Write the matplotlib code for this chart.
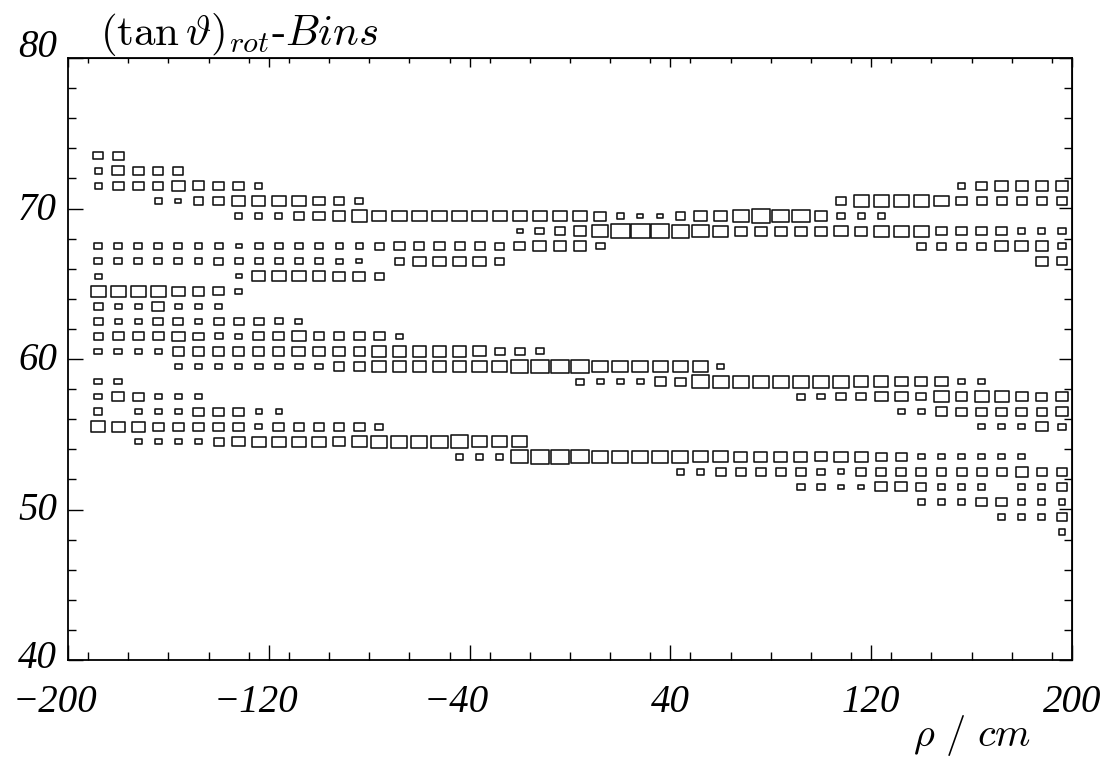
import numpy as np
import matplotlib
matplotlib.use("Agg")
import matplotlib.pyplot as plt
from matplotlib.patches import Rectangle
from matplotlib.collections import PatchCollection
from matplotlib.ticker import MultipleLocator, FixedLocator
from matplotlib.transforms import ScaledTranslation, blended_transform_factory

plt.rcParams['mathtext.fontset'] = 'cm'

# ---------------- binning ----------------
rho_edges = np.arange(-192, 201, 8)          # 49 rho bins, 8 cm wide
tan_edges = np.arange(40, 81, 1)             # (tan theta)_rot bins, width 1

# ---------------- bin contents ----------------
# box size in % of full bin; each row: list of (first rho-bin index, contents)
row_73 = [(0, [45, 50])]
row_72 = [(0, [33, 57, 50, 47, 47])]
row_71 = [(0, [33, 50, 50, 47, 58, 55, 50, 50, 33]), (43, [33, 51, 58, 58, 58, 58])]
row_70 = [(3, [33, 28, 45, 48, 58, 62, 62, 62, 55, 50, 37]),
          (37, [46, 71, 71, 71, 71, 66, 50, 46, 46, 46, 46, 50])]
row_69 = [(7, [33, 33, 33, 50, 55, 58, 70, 67, 67, 67, 67, 67, 67, 67, 67, 67, 67, 67,
               56, 33, 28, 28, 45, 58, 58, 73, 83, 80, 80, 60, 40, 33, 33])]
row_68 = [(21, [28, 42, 50, 58, 73, 88, 93, 85, 81, 78, 68, 56, 56, 56, 56, 56,
                63, 56, 68, 68, 68, 48, 48, 48, 50, 33, 33, 33])]
row_67 = [(0, [37, 37, 37, 37, 37, 37, 37, 28, 37, 37, 37, 37, 33, 33, 42, 50, 47, 47,
               47, 47, 42, 50, 60, 60, 58, 41]),
          (41, [45, 45, 45, 45, 61, 60, 58, 33])]
row_66 = [(0, [37, 37, 37, 37, 37, 37, 42, 37, 37, 37, 37, 37, 33, 25]),
          (15, [42, 58, 58, 58, 58, 42]), (47, [55, 50])]
row_65 = [(0, [33]), (7, [28, 62, 62, 62, 60, 58, 58, 42])]
row_64 = [(0, [70, 70, 70, 67, 58, 55, 50, 33])]
row_63 = [(0, [42, 33, 33, 57, 33, 33, 33])]
row_62 = [(0, [42, 33, 33, 47, 47, 33, 47, 47, 47, 38, 33])]
row_61 = [(0, [43, 50, 50, 50, 58, 47, 37, 32, 50, 50, 62, 50, 50, 50, 50, 35])]
row_60 = [(0, [35, 35, 35, 35, 50, 50, 50, 50, 50, 50, 60, 60, 58, 50, 65, 63, 63, 63,
               63, 62, 45, 45, 37])]
row_59 = [(4, [35, 35, 35, 35, 35, 35, 35, 35, 50, 50, 65, 63, 63, 63, 63, 73, 70, 80,
               83, 83, 83, 73, 73, 73, 73, 73, 68, 33])]
row_58 = [(0, [35, 35]),
          (24, [37, 33, 33, 30, 53, 50, 78, 75, 75, 75, 75, 75, 75, 75, 66, 66, 58, 55,
                58, 33, 33])]
row_57 = [(0, [35, 55, 50, 35, 35, 35]),
          (35, [38, 33, 46, 46, 60, 58, 46, 66, 55, 66, 66, 58, 51, 58])]
row_56 = [(0, [40]), (2, [35, 35, 35, 50, 50, 50, 30, 30]),
          (40, [33, 33, 53, 50, 50, 50, 50, 50, 58])]
row_55 = [(0, [67, 62, 62, 50, 50, 50, 50, 50, 33, 50, 50, 50, 50, 50, 35]),
          (44, [33, 33, 33, 55, 37])]
row_54 = [(2, [33, 33, 33, 30, 47, 58, 65, 65, 65, 65, 58, 70, 75, 75, 75, 75, 78, 71,
               71, 71])]
row_53 = [(18, [35, 35, 35, 80, 83, 83, 80, 73, 75, 75, 75, 75, 68, 68, 61, 61, 61, 61,
                55, 66, 61, 50, 50, 32, 32, 32, 32, 32, 32])]
row_52 = [(29, [33, 33, 46, 46, 46, 46, 46, 33, 30, 46, 46, 46, 46, 46, 46, 46, 46, 58,
                46, 46])]
row_51 = [(35, [35, 33, 30, 30, 55, 55, 46, 32, 32, 32]), (46, [33, 33, 50])]
row_50 = [(41, [32, 32, 32, 50, 50, 32, 32, 32])]
row_49 = [(45, [33, 33, 33, 50])]
row_48 = [(48, [32])]

rows = {73: row_73, 72: row_72, 71: row_71, 70: row_70, 69: row_69, 68: row_68,
        67: row_67, 66: row_66, 65: row_65, 64: row_64, 63: row_63, 62: row_62,
        61: row_61, 60: row_60, 59: row_59, 58: row_58, 57: row_57, 56: row_56,
        55: row_55, 54: row_54, 53: row_53, 52: row_52, 51: row_51, 50: row_50,
        49: row_49, 48: row_48}

x_ticks = [-200, -120, -40, 40, 120, 200]
y_ticks = [40, 50, 60, 70, 80]

# ---------------- figure ----------------
W, H = 1114, 757
fig = plt.figure(figsize=(W / 100, H / 100), dpi=100)
ax = fig.add_axes([68 / W, 1 - 660 / H, 1004 / W, 602 / H])
ax.set_xlim(-200, 200)
ax.set_ylim(40, 80)

box_scale = 1.07
bw = rho_edges[1] - rho_edges[0]
boxes = []
for y0, segs in rows.items():
    for first, vals in segs:
        for k, v in enumerate(vals):
            f = min(v / 100.0 * box_scale, 0.97)
            xc = rho_edges[first + k] + bw / 2
            yc = y0 + 0.5
            boxes.append(Rectangle((xc - f * bw / 2, yc - f * 0.5), f * bw, f * 1.0))
ax.add_collection(PatchCollection(boxes, facecolor='none', edgecolor='#111111',
                                  linewidth=1.15))

for sp in ax.spines.values():
    sp.set_linewidth(1.3)

ax.xaxis.set_major_locator(FixedLocator(x_ticks))
ax.xaxis.set_minor_locator(MultipleLocator(16))
ax.yaxis.set_major_locator(FixedLocator(y_ticks))
ax.yaxis.set_minor_locator(MultipleLocator(2))
ax.tick_params(which='both', direction='in', labelbottom=False, labelleft=False,
               width=1.0, color='black')
ax.tick_params(which='major', length=10.8)
ax.tick_params(which='minor', length=5.8)

secx = ax.secondary_xaxis('top')
secx.xaxis.set_major_locator(FixedLocator(x_ticks))
secx.xaxis.set_minor_locator(MultipleLocator(16))
secx.tick_params(which='both', direction='in', labeltop=False, width=1.0)
secx.tick_params(which='major', length=6.5)
secx.tick_params(which='minor', length=3.6)
secy = ax.secondary_yaxis('right')
secy.yaxis.set_major_locator(FixedLocator(y_ticks))
secy.yaxis.set_minor_locator(MultipleLocator(2))
secy.tick_params(which='both', direction='in', labelright=False, width=1.0)
secy.tick_params(which='major', length=9.4)
secy.tick_params(which='minor', length=5.8)

# ---------------- tick labels ----------------
fs = 28
lab_font = dict(family='Liberation Serif', style='italic', size=fs)
tx = blended_transform_factory(ax.transData, ax.transAxes)
for v in x_ticks:
    s = str(abs(v))
    if v < 0:
        off = ScaledTranslation(len(s) * 0.5 * fs / 2 / 72, -52 / 100, fig.dpi_scale_trans)
        ax.text(v, 0, '\u2212' + s, ha='right', va='baseline', transform=tx + off,
                **lab_font)
    else:
        off = ScaledTranslation(0, -52 / 100, fig.dpi_scale_trans)
        ax.text(v, 0, s, ha='center', va='baseline', transform=tx + off, **lab_font)

# baseline offsets (px below the tick) for the y labels
y_label_drop = {40: 8, 50: 11, 60: 11, 70: 11, 80: -1}
ty = blended_transform_factory(ax.transAxes, ax.transData)
for v in y_ticks:
    off = ScaledTranslation(-11 / 100, -y_label_drop[v] / 100, fig.dpi_scale_trans)
    ax.text(0, v, str(v), ha='right', va='baseline', transform=ty + off, **lab_font)

# ---------------- titles ----------------
fig.text(100 / W, 1 - 45 / H, r'$(\tan\vartheta)_{rot}$-$Bins$', fontsize=31,
         family='cmr10', ha='left', va='baseline')
fig.text(1031 / W, 1 - 746 / H, r'$\rho\ /\ cm$', fontsize=29, ha='right',
         va='baseline')

fig.savefig('out.png', dpi=100)
